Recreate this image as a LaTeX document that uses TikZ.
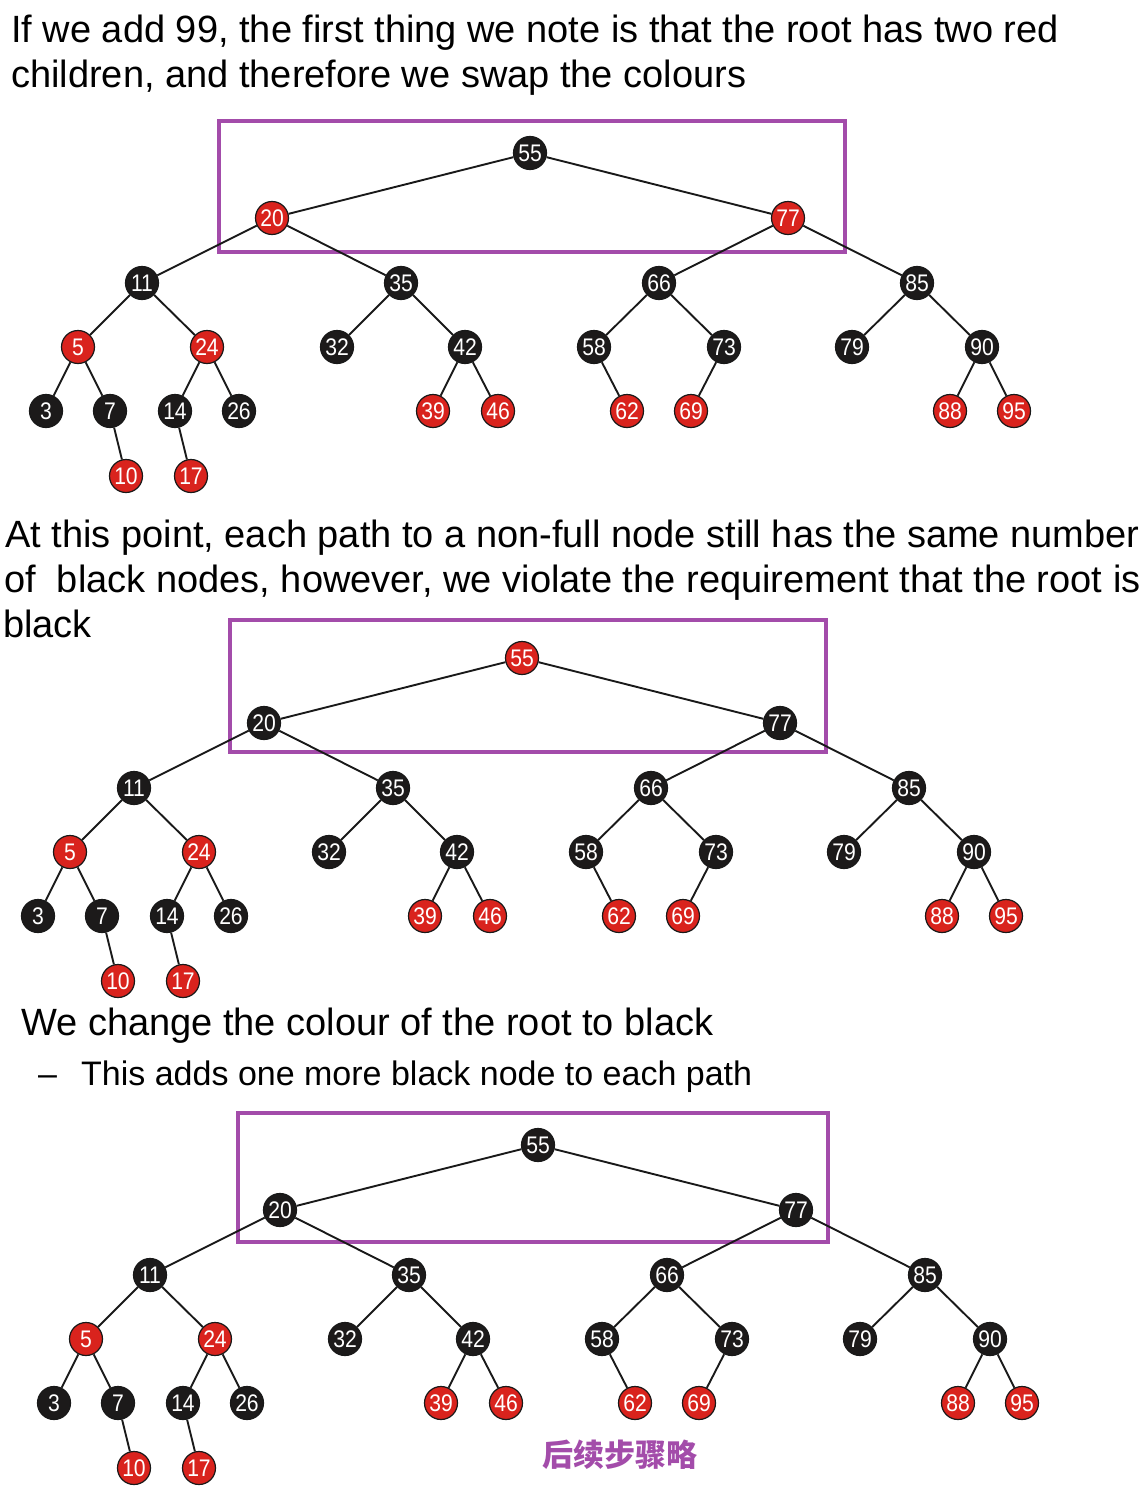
\documentclass[tikz,border=0pt]{standalone}
\usepackage{fontspec}
\setmainfont{Liberation Sans}
\newfontfamily\numfont{Liberation Sans}[FakeStretch=0.88]
\newfontfamily\cjkfont{Noto Sans CJK SC}
\usetikzlibrary{positioning}
\definecolor{rbred}{RGB}{217,35,29}
\definecolor{rbblack}{RGB}{28,26,26}
\definecolor{boxpurple}{RGB}{163,76,170}
\tikzset{
    mynode/.style = {circle, draw=black!90, line width=1.2pt, minimum size=33pt, inner sep=0pt, font=\numfont\fontsize{24}{24}\selectfont, text=white},
    mynoder/.style = {mynode, fill=rbred},
    mynodeb/.style = {mynode, fill=rbblack},
    edgen/.style = {-, line width=1.9pt, black!90},
    boxn/.style = {line width=3.5pt, draw=boxpurple},
    textn/.style = {anchor=base west, inner sep=0pt, font=\fontsize{38}{46}\selectfont},
}
% one red-black tree, root at the origin of the current scope
% #1 = style of the root, #2 = style of 20 and 77
\newcommand{\rbtree}[2]{%
\node[#1] at (0,0) (n55) {55};
\node[#2] at (-258,65) (n20) {20};
\node[#2] at (258,65) (n77) {77};
%
\node[mynodeb] at (-388,130) (n11) {11};
\node[mynodeb] at (-129,130) (n35) {35};
\node[mynodeb] at (129,130) (n66) {66};
\node[mynodeb] at (387,130) (n85) {85};
%
\node[mynoder] at (-452,194) (n5) {5};
\node[mynoder] at (-323,194) (n24) {24};
\node[mynodeb] at (-193,194) (n32) {32};
\node[mynodeb] at (-65,194) (n42) {42};
\node[mynodeb] at (64,194) (n58) {58};
\node[mynodeb] at (194,194) (n73) {73};
\node[mynodeb] at (322,194) (n79) {79};
\node[mynodeb] at (452,194) (n90) {90};
%
\node[mynodeb] at (-484,258) (n3) {3};
\node[mynodeb] at (-420,258) (n7) {7};
\node[mynodeb] at (-355,258) (n14) {14};
\node[mynodeb] at (-291,258) (n26) {26};
\node[mynoder] at (-97,258) (n39) {39};
\node[mynoder] at (-32,258) (n46) {46};
\node[mynoder] at (97,258) (n62) {62};
\node[mynoder] at (161,258) (n69) {69};
\node[mynoder] at (420,258) (n88) {88};
\node[mynoder] at (484,258) (n95) {95};
%
\node[mynoder] at (-404,323) (n10) {10};
\node[mynoder] at (-339,323) (n17) {17};
%
\draw[edgen] (n55) -- (n20);
\draw[edgen] (n55) -- (n77);
\draw[edgen] (n20) -- (n11);
\draw[edgen] (n20) -- (n35);
\draw[edgen] (n77) -- (n66);
\draw[edgen] (n77) -- (n85);
\draw[edgen] (n11) -- (n5);
\draw[edgen] (n11) -- (n24);
\draw[edgen] (n35) -- (n32);
\draw[edgen] (n35) -- (n42);
\draw[edgen] (n66) -- (n58);
\draw[edgen] (n66) -- (n73);
\draw[edgen] (n85) -- (n79);
\draw[edgen] (n85) -- (n90);
\draw[edgen] (n5) -- (n3);
\draw[edgen] (n5) -- (n7);
\draw[edgen] (n24) -- (n14);
\draw[edgen] (n24) -- (n26);
\draw[edgen] (n42) -- (n39);
\draw[edgen] (n42) -- (n46);
\draw[edgen] (n58) -- (n62);
\draw[edgen] (n73) -- (n69);
\draw[edgen] (n90) -- (n88);
\draw[edgen] (n90) -- (n95);
\draw[edgen] (n7) -- (n10);
\draw[edgen] (n14) -- (n17);
}

\begin{document}
\begin{tikzpicture}[x=1pt,y=-1pt]
\useasboundingbox (0,0) rectangle (1146,1488);

% first step: the root has two red children
\node[textn] at (11,43) (t1a) {If we add 99, the first thing we note is that the root has two red};
\node[textn] at (11,88) (t1b) {children, and therefore we swap the colours};
\draw[boxn] (219,121) rectangle (845,252);
\begin{scope}[shift={(530,153)}, name prefix=a-]
\rbtree{mynodeb}{mynoder}
\end{scope}

% second step: colours swapped, red root
\node[textn] at (5,547) (t2a) {At this point, each path to a non-full node still has the same number};
\node[textn] at (4,592) (t2b) {of~ black nodes, however, we violate the requirement that the root is};
\node[textn] at (3,637) (t2c) {black};
\draw[boxn] (230,620) rectangle (826,752);
\begin{scope}[shift={(522,658)}, name prefix=b-]
\rbtree{mynoder}{mynodeb}
\end{scope}

% third step: root back to black
\node[textn] at (21,1035) (t3a) {We change the colour of the root to black};
\node[textn, font=\fontsize{34}{40}\selectfont] at (38,1085) (t3b) {–};
\node[textn, font=\fontsize{34}{40}\selectfont] at (81,1085) (t3c) {This adds one more black node to each path};
\draw[boxn] (238,1113) rectangle (828,1242);
\begin{scope}[shift={(538,1145)}, name prefix=c-]
\rbtree{mynodeb}{mynodeb}
\end{scope}

\node[text=boxpurple, font=\cjkfont\bfseries\fontsize{31}{31}\selectfont] at (620,1455) (more) {后续步骤略};
\end{tikzpicture}
\end{document}
